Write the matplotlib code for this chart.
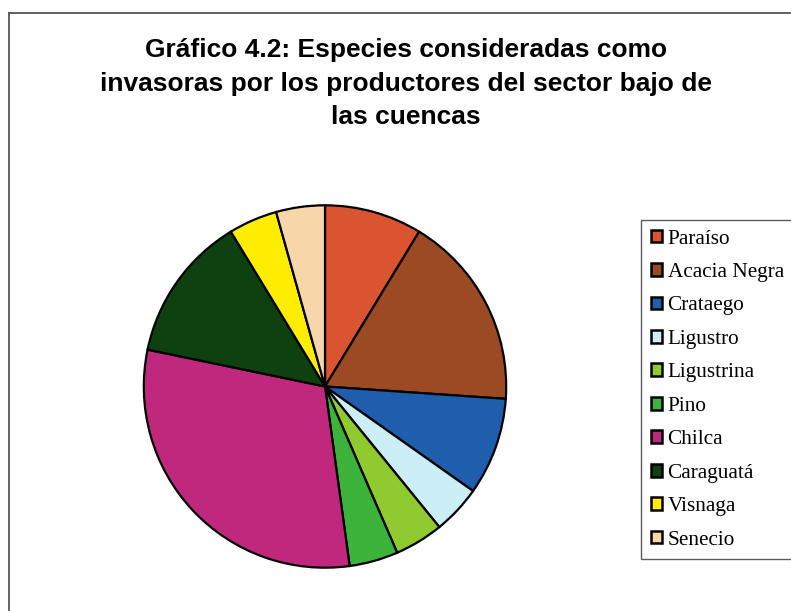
import matplotlib
matplotlib.use("Agg")
import matplotlib.pyplot as plt
from matplotlib.lines import Line2D
from matplotlib.patches import Patch

categories = ["Paraíso", "Acacia Negra", "Crataego", "Ligustro", "Ligustrina",
              "Pino", "Chilca", "Caraguatá", "Visnaga", "Senecio"]
values = [2, 4, 2, 1, 1, 1, 7, 3, 1, 1]
colors = ["#D9542F", "#9C4A24", "#1E5EAD", "#CBEEF7", "#8FCB2F",
          "#3CB43C", "#C0287E", "#0E410F", "#FFED00", "#F7D6AA"]
title = "Gráfico 4.2: Especies consideradas como\ninvasoras por los productores del sector bajo de\nlas cuencas"

W, H = 791, 611
fig = plt.figure(figsize=(W / 100, H / 100), dpi=100)
fig.patch.set_facecolor("white")

# frame lines (left and top visible)
fig.add_artist(Line2D([9 / W, 9 / W], [0, 1 - 13 / H], transform=fig.transFigure,
                      color="#555555", lw=1.3))
fig.add_artist(Line2D([9 / W, 1], [1 - 13 / H, 1 - 13 / H], transform=fig.transFigure,
                      color="#555555", lw=1.3))

cx, cy, r = 325, 386.5, 183
ax = fig.add_axes([(cx - r) / W, (H - cy - r) / H, 2 * r / W, 2 * r / H])
ax.pie(values, colors=colors, startangle=90, counterclock=False, radius=1,
       wedgeprops=dict(edgecolor="black", linewidth=1.6))
ax.set_xlim(-1.01, 1.01)
ax.set_ylim(-1.01, 1.01)
ax.set_aspect("equal")
ax.axis("off")

fig.text(406 / W, 1 - 84 / H, title, ha="center", va="center",
         fontsize=19, fontweight="bold", family="Liberation Sans",
         linespacing=1.5)

handles = [Patch(facecolor=c, edgecolor="black", linewidth=1.8) for c in colors]
leg = fig.legend(handles, categories, loc="upper left",
                 bbox_to_anchor=(641 / W, 1 - 220 / H),
                 prop=dict(family="Liberation Serif", size=15.3),
                 frameon=True, fancybox=False, edgecolor="#333333",
                 handlelength=0.55, handleheight=0.55, handletextpad=0.25,
                 labelspacing=0.68, borderpad=0.45, borderaxespad=0)
leg.get_frame().set_linewidth(1.0)

fig.savefig("out.png", dpi=100)
